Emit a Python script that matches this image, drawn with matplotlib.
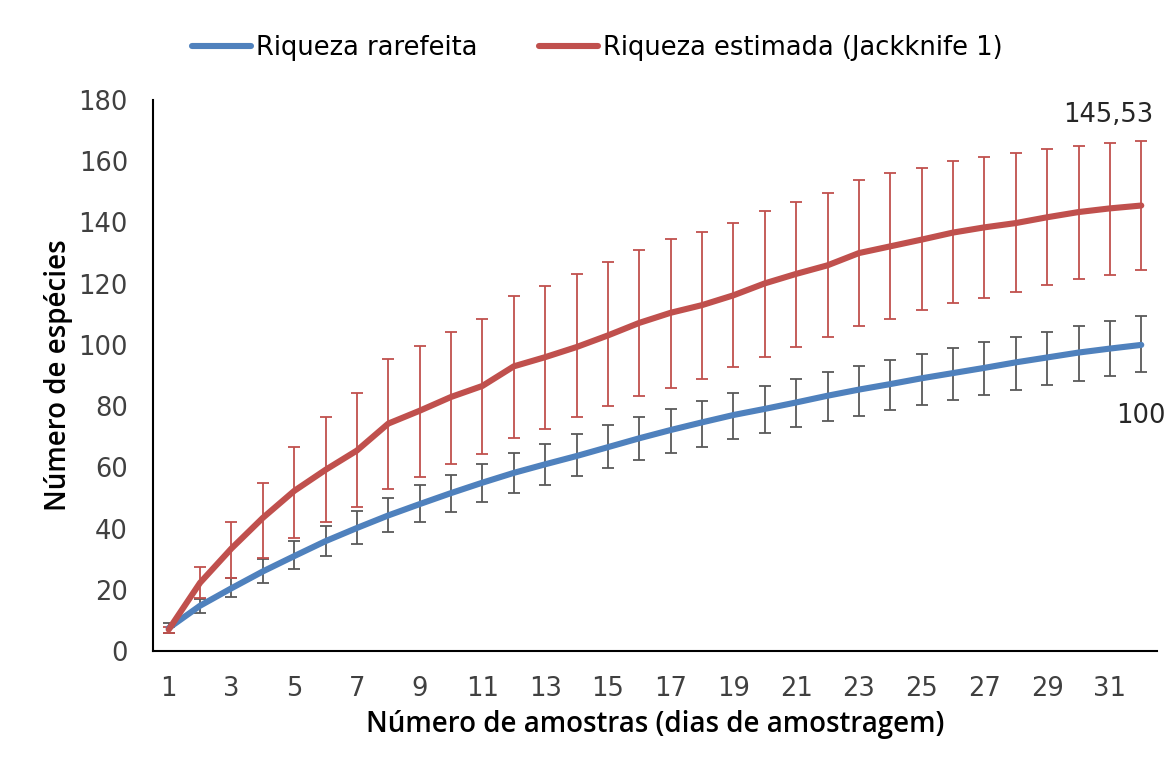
import matplotlib

matplotlib.use("Agg")
import matplotlib.pyplot as plt

BLUE = "#4F81BD"
RED = "#C0504D"
ERR_GRAY = "#595959"
TICK = "#404040"

amostras = list(range(1, 33))

# Riqueza rarefeita (media e limites do desvio)
rarefeita = [7.5, 14.8, 20.5, 26.0, 31.0, 35.9, 40.2, 44.3, 48.0, 51.6, 55.0, 58.2,
             61.0, 63.7, 66.6, 69.5, 72.2, 74.7, 77.1, 79.1, 81.2, 83.4, 85.4, 87.2,
             89.1, 90.8, 92.5, 94.3, 95.9, 97.5, 98.8, 100.0]
rare_inf = [6.0, 12.3, 17.5, 22.3, 26.9, 31.2, 35.0, 38.8, 42.3, 45.5, 48.6, 51.6,
            54.4, 57.2, 59.8, 62.3, 64.6, 66.8, 69.2, 71.2, 73.1, 75.1, 76.9, 78.8,
            80.5, 82.1, 83.8, 85.4, 86.9, 88.2, 89.7, 91.0]
rare_sup = [9.0, 16.9, 23.8, 30.2, 35.9, 40.8, 45.7, 49.9, 54.1, 57.6, 61.2, 64.6,
            67.6, 71.0, 73.9, 76.6, 79.2, 81.8, 84.3, 86.6, 88.8, 91.0, 93.2, 95.1,
            97.1, 99.0, 100.9, 102.7, 104.3, 106.1, 107.8, 109.3]

# Riqueza estimada (Jackknife 1)
jackknife = [7.0, 22.3, 33.5, 43.5, 52.3, 59.2, 65.5, 74.3, 78.5, 83.0, 86.6, 93.0,
             96.0, 99.3, 103.1, 107.2, 110.5, 113.0, 116.2, 120.1, 123.2, 126.0, 130.0, 132.2,
             134.4, 136.7, 138.4, 139.8, 141.7, 143.4, 144.6, 145.53]
jack_inf = [6.0, 17.2, 23.9, 30.4, 36.8, 42.3, 46.9, 53.0, 57.0, 61.2, 64.4, 69.5,
            72.6, 76.6, 80.2, 83.4, 86.0, 88.8, 92.7, 96.2, 99.2, 102.6, 106.1, 108.6,
            111.3, 113.6, 115.4, 117.2, 119.5, 121.4, 122.9, 124.6]
jack_sup = [8.0, 27.4, 42.3, 55.0, 66.7, 76.5, 84.2, 95.4, 99.8, 104.3, 108.4, 116.0,
            119.1, 123.2, 127.1, 131.0, 134.5, 137.0, 139.9, 143.9, 146.7, 149.5, 153.9, 156.3,
            157.8, 160.1, 161.4, 162.7, 163.9, 165.1, 166.1, 166.6]

plt.rcParams["font.family"] = "DejaVu Sans"

fig = plt.figure(figsize=(11.76, 7.67), dpi=100)
ax = fig.add_axes([0.1301, 0.1512, 0.8537, 0.7184])

err_r = [[m - lo for m, lo in zip(rarefeita, rare_inf)],
         [hi - m for m, hi in zip(rarefeita, rare_sup)]]
err_j = [[m - lo for m, lo in zip(jackknife, jack_inf)],
         [hi - m for m, hi in zip(jackknife, jack_sup)]]

ax.errorbar(amostras, rarefeita, yerr=err_r, fmt="none", ecolor=ERR_GRAY,
            elinewidth=1.3, capsize=4.3, capthick=1.3, zorder=2)
ax.errorbar(amostras, jackknife, yerr=err_j, fmt="none", ecolor=RED,
            elinewidth=1.3, capsize=4.3, capthick=1.3, zorder=2)
ax.plot(amostras, rarefeita, color=BLUE, lw=4.4, solid_capstyle="round",
        label="Riqueza rarefeita", zorder=3)
ax.plot(amostras, jackknife, color=RED, lw=4.4, solid_capstyle="round",
        label="Riqueza estimada (Jackknife 1)", zorder=4)

ax.annotate("145,53", (amostras[-1], jackknife[-1]), xytext=(-24, 65),
            textcoords="offset points", ha="center", va="center",
            fontsize=18.5, color="#262626")
ax.annotate("100", (amostras[-1], rarefeita[-1]), xytext=(0, -51),
            textcoords="offset points", ha="center", va="center",
            fontsize=18.5, color="#262626")

ax.set_xlim(0.5, 32.5)
ax.set_ylim(0, 180)
ax.set_xticks(range(1, 33, 2))
ax.set_yticks(range(0, 181, 20))
ax.tick_params(length=0, labelsize=18.5, labelcolor=TICK)
ax.tick_params(axis="x", pad=18)
ax.tick_params(axis="y", pad=18)
for s in ("top", "right"):
    ax.spines[s].set_visible(False)
for s in ("left", "bottom"):
    ax.spines[s].set_linewidth(1.5)
    ax.spines[s].set_color("black")

ax.set_xlabel("Número de amostras (dias de amostragem)", fontsize=20,
              family="Open Sans", fontweight="semibold", labelpad=6)
ax.set_ylabel("Número de espécies", fontsize=20, family="Open Sans",
              fontweight="semibold", labelpad=4)

fig.legend(loc="upper center", bbox_to_anchor=(0.508, 0.985), ncol=2, frameon=False,
           fontsize=18.5, handlelength=2.3, handletextpad=0.2, columnspacing=2.4)

fig.savefig("out.png", dpi=100, facecolor="white")
